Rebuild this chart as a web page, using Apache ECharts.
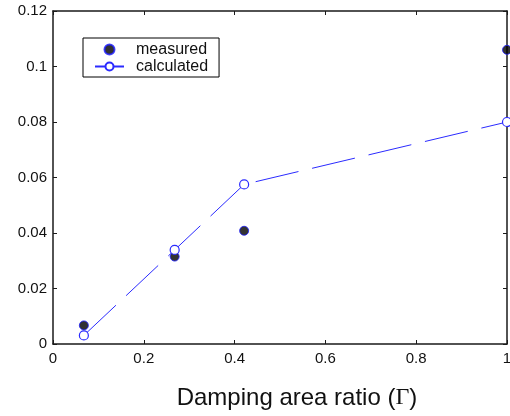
<!DOCTYPE html>
<html>
<head>
<meta charset="utf-8">
<script src="https://cdn.jsdelivr.net/npm/echarts@6/dist/echarts.min.js"></script>
<style>
  html, body { margin: 0; padding: 0; background: #fff; }
  #chart { width: 510px; height: 416px; }
</style>
</head>
<body>
<div id="chart"></div>
<script>
// Damping area ratio (Γ) and the two data sets
const ratio = [0.068, 0.268, 0.421, 1.0];
const measured = [0.0067, 0.0315, 0.0408, 0.106];
const calculated = [0.0031, 0.0339, 0.0575, 0.08];
const xTicks = [0, 0.2, 0.4, 0.6, 0.8, 1];
const yTicks = [0, 0.02, 0.04, 0.06, 0.08, 0.1, 0.12];

const pairs = (xs, ys) => xs.map((x, i) => [x, ys[i]]);

const axisColor = '#1a1a1a';
const font = 'Liberation Sans, Arial, sans-serif';

const chart = echarts.init(document.getElementById('chart'), null, { renderer: 'canvas' });

const baseX = {
  type: 'value',
  min: xTicks[0],
  max: xTicks[xTicks.length - 1],
  interval: 0.2,
  axisLine: { show: true, onZero: false, lineStyle: { color: axisColor, width: 1.5 } },
  axisTick: { show: true, inside: true, length: 4, lineStyle: { color: axisColor } },
  splitLine: { show: false }
};
const baseY = {
  type: 'value',
  min: yTicks[0],
  max: yTicks[yTicks.length - 1],
  interval: 0.02,
  axisLine: { show: true, onZero: false, lineStyle: { color: axisColor, width: 1.5 } },
  axisTick: { show: true, inside: true, length: 4, lineStyle: { color: axisColor } },
  splitLine: { show: false }
};

chart.setOption({
  animation: false,
  backgroundColor: '#fff',
  grid: { left: 53, right: 3, top: 11, bottom: 72, containLabel: false, outerBoundsMode: 'none' },
  legend: {
    left: 83,
    top: 38,
    orient: 'vertical',
    padding: [3, 11, 2, 11],
    itemGap: 0,
    itemWidth: 29,
    itemHeight: 10,
    borderColor: '#000',
    borderWidth: 1,
    borderRadius: 0,
    backgroundColor: '#fff',
    textStyle: { fontFamily: font, fontSize: 16, lineHeight: 17, color: '#111', padding: [0, 0, 0, 7] },
    data: [
      { name: 'measured' },
      { name: 'calculated' }
    ]
  },
  xAxis: [
    Object.assign({}, baseX, {
      position: 'bottom',
      axisLabel: { show: true, margin: 7, color: '#111', fontFamily: font, fontSize: 15 },
      name: 'Damping area ratio ({g|Γ})',
      nameLocation: 'middle',
      nameGap: 42,
      nameTextStyle: {
        fontFamily: font, fontSize: 24, color: '#111',
        padding: [0, 0, 0, 34],
        rich: { g: { fontFamily: 'Liberation Serif, Times New Roman, serif', fontSize: 24, color: '#111' } }
      }
    }),
    Object.assign({}, baseX, { position: 'top', axisLabel: { show: false } })
  ],
  yAxis: [
    Object.assign({}, baseY, {
      position: 'left',
      axisLabel: { show: true, margin: 6, color: '#111', fontFamily: font, fontSize: 15 }
    }),
    Object.assign({}, baseY, { position: 'right', axisLabel: { show: false } })
  ],
  series: [
    {
      name: 'measured',
      type: 'scatter',
      data: pairs(ratio, measured),
      symbol: 'circle',
      symbolSize: 9,
      itemStyle: { color: '#000', borderColor: '#1a1aff', borderWidth: 1 },
      clip: false,
      z: 3
    },
    {
      name: 'calculated',
      type: 'line',
      data: pairs(ratio, calculated),
      symbol: 'circle',
      symbolSize: 9,
      showSymbol: true,
      lineStyle: { color: '#2b2bff', width: 1, type: [44, 14] },
      itemStyle: { color: '#fff', borderColor: '#2b2bff', borderWidth: 1.2 },
      clip: false,
      z: 4
    }
  ]
});
</script>
</body>
</html>
